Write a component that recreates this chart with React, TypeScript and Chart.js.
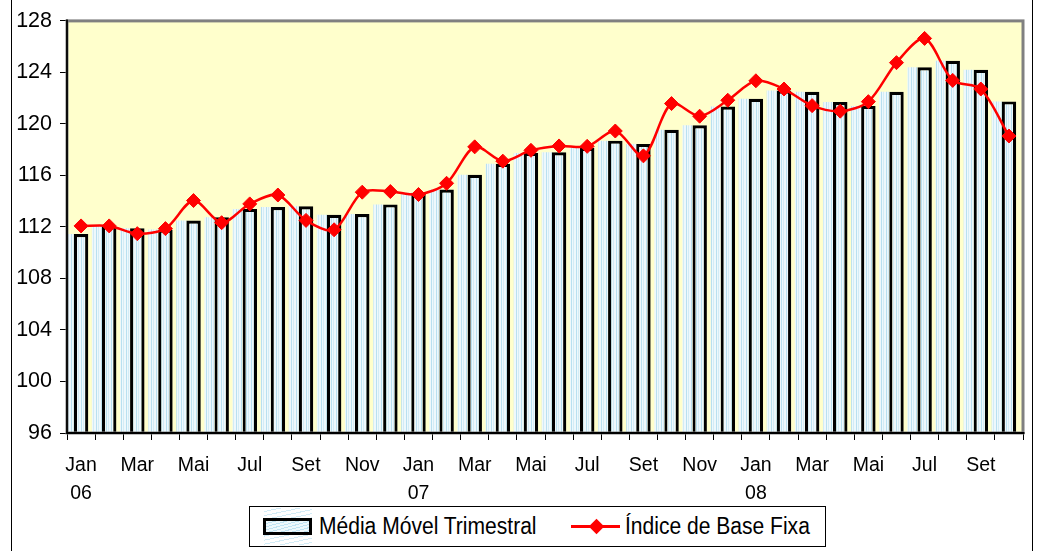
import React, { useEffect, useRef } from 'react';
import { Chart, registerables } from 'chart.js';

Chart.register(...registerables);

const categories: string[][] = [
  ['Jan', '06'], ['Fev'], ['Mar'], ['Abr'], ['Mai'], ['Jun'], ['Jul'], ['Ago'], ['Set'], ['Out'], ['Nov'], ['Dez'],
  ['Jan', '07'], ['Fev'], ['Mar'], ['Abr'], ['Mai'], ['Jun'], ['Jul'], ['Ago'], ['Set'], ['Out'], ['Nov'], ['Dez'],
  ['Jan', '08'], ['Fev'], ['Mar'], ['Abr'], ['Mai'], ['Jun'], ['Jul'], ['Ago'], ['Set'], ['Out'],
];

const mediaMovelTrimestral = [
  111.45, 112.1, 111.9, 111.8, 112.5, 112.75, 113.4, 113.55, 113.6, 112.95, 113.0, 113.75,
  114.65, 114.9, 116.05, 116.9, 117.75, 117.8, 118.15, 118.7, 118.45, 119.55, 119.9, 121.35,
  121.95, 122.6, 122.5, 121.7, 121.4, 122.5, 124.4, 124.9, 124.2, 121.75,
];

const indiceBaseFixa = [
  112.08, 112.08, 111.48, 111.87, 114.05, 112.33, 113.79, 114.48, 112.51, 111.78, 114.7, 114.75,
  114.52, 115.39, 118.22, 117.11, 117.95, 118.29, 118.26, 119.45, 117.52, 121.58, 120.6, 121.84,
  123.35, 122.71, 121.42, 120.99, 121.73, 124.76, 126.64, 123.38, 122.71, 119.06,
];

const seriesNames = ['Média Móvel Trimestral', 'Índice de Base Fixa'];
const yMin = 96;
const yMax = 128;
const yStep = 4;

const SLOT_PX = 12.25;
const MAIN_BAR_PX = 14.5;
const SHADOW_BAR_PX = 10;
const CAT_PCT = (3 * SLOT_PX) / ((1023 - 67) / 34);

const framePlugin = {
  id: 'frame',
  beforeDraw(chart: any) {
    const { ctx, chartArea: a } = chart;
    ctx.save();
    ctx.fillStyle = '#FFFFCC';
    ctx.fillRect(a.left, a.top, a.right - a.left, a.bottom - a.top);
    ctx.restore();
  },
  afterDatasetsDraw(chart: any) {
    const { ctx, chartArea: a } = chart;
    ctx.save();
    ctx.strokeStyle = '#808080';
    ctx.lineWidth = 3;
    ctx.strokeRect(a.left, a.top, a.right - a.left, a.bottom - a.top);
    ctx.strokeStyle = '#000';
    ctx.lineWidth = 1.8;
    ctx.beginPath();
    ctx.moveTo(a.left, a.top - 1.5);
    ctx.lineTo(a.left, a.bottom);
    ctx.lineTo(a.right + 1.5, a.bottom);
    ctx.stroke();
    ctx.restore();
  },
};

export default function App() {
  const ref = useRef<HTMLCanvasElement>(null);

  useEffect(() => {
    const canvas = ref.current!;
    const ctx = canvas.getContext('2d')!;
    const pc = document.createElement('canvas');
    pc.width = 5;
    pc.height = 6;
    const p = pc.getContext('2d')!;
    p.fillStyle = '#EEF8FC';
    p.fillRect(0, 0, 5, 6);
    p.fillStyle = '#B9E0F0';
    p.fillRect(1, 0, 1, 6);
    p.fillStyle = '#D2ECF6';
    p.fillRect(3, 0, 1, 6);
    const pattern = ctx.createPattern(pc, 'repeat')!;

    const chart = new Chart(canvas, {
      type: 'bar',
      data: {
        labels: categories,
        datasets: [
          {
            type: 'line',
            label: seriesNames[1],
            data: indiceBaseFixa,
            borderColor: '#FF0000',
            backgroundColor: '#FF0000',
            borderWidth: 2.5,
            pointStyle: 'rectRot',
            pointRadius: 7,
            pointBorderWidth: 1,
            pointBackgroundColor: '#FF0000',
            pointBorderColor: '#FF0000',
            tension: 0.3,
            order: -1,
          } as any,
          {
            type: 'bar',
            label: 'sombra',
            data: mediaMovelTrimestral,
            backgroundColor: pattern,
            borderWidth: 0,
            categoryPercentage: CAT_PCT,
            barPercentage: SHADOW_BAR_PX / SLOT_PX,
            base: yMin,
            clip: 0,
          } as any,
          {
            type: 'bar',
            label: seriesNames[0],
            data: mediaMovelTrimestral,
            backgroundColor: pattern,
            borderColor: '#000000',
            borderWidth: 3.2,
            categoryPercentage: CAT_PCT,
            barPercentage: MAIN_BAR_PX / SLOT_PX,
            base: yMin,
          } as any,
          {
            type: 'bar',
            label: 'espaço',
            data: categories.map(() => null),
            categoryPercentage: CAT_PCT,
            barPercentage: 1,
          } as any,
        ],
      },
      options: {
        responsive: false,
        animation: false,
        devicePixelRatio: 1,
        events: [],
        layout: { padding: { top: 17.3, right: 17, bottom: 48, left: 0 } },
        plugins: {
          legend: { display: false },
          tooltip: { enabled: false },
        },
        scales: {
          x: {
            offset: true,
            border: { display: false },
            grid: { offset: true, drawOnChartArea: false, drawTicks: true, tickLength: 7, color: '#000', lineWidth: 1 },
            ticks: {
              autoSkip: false,
              maxRotation: 0,
              minRotation: 0,
              padding: 11,
              color: '#000',
              font: { family: "'Liberation Sans', Arial, sans-serif", size: 19.5, lineHeight: 1.45 },
              callback: (_v: any, i: number) => (i % 2 === 0 ? categories[i] : ''),
            },
            afterFit: (s: any) => {
              s.height = 70;
            },
          },
          y: {
            min: yMin,
            max: yMax,
            border: { display: false },
            grid: { drawOnChartArea: false, drawTicks: true, tickLength: 7, color: '#000', lineWidth: 1 },
            ticks: {
              stepSize: yStep,
              padding: 8,
              color: '#000',
              font: { family: "'Liberation Sans', Arial, sans-serif", size: 21.5 },
            },
            afterFit: (s: any) => {
              s.width = 67;
            },
          },
        },
      },
      plugins: [framePlugin],
    });
    return () => chart.destroy();
  }, []);

  const legendFont = "'Liberation Sans', Arial, sans-serif";
  const textStyle: React.CSSProperties = {
    position: 'absolute', top: 6, lineHeight: '26px', whiteSpace: 'nowrap',
    fontSize: 23, transform: 'scaleX(0.915)', transformOrigin: 'left center',
  };

  return (
    <div style={{ position: 'fixed', left: 0, top: 0, width: 1040, height: 551, background: '#fff', overflow: 'hidden' }}>
      <canvas ref={ref} width={1040} height={551} style={{ position: 'absolute', left: 0, top: 0, width: 1040, height: 551 }} />
      <div
        style={{
          position: 'absolute', left: 11, top: 0, width: 1022, height: 551, boxSizing: 'border-box',
          borderLeft: '1px solid #000', borderRight: '1px solid #000', pointerEvents: 'none',
        }}
      />
      <div
        style={{
          position: 'absolute', left: 249, top: 506, width: 577, height: 41, boxSizing: 'border-box',
          border: '1px solid #000', background: '#fff', fontFamily: legendFont, color: '#000',
        }}
      >
        <div
          style={{
            position: 'absolute', left: 14, top: 1, width: 48, height: 37, opacity: 0.7,
            background: 'repeating-linear-gradient(168deg, #FFFFFF 0px, #FFFFFF 3px, #BFE3F2 3px, #BFE3F2 4px)',
          }}
        />
        <div
          style={{
            position: 'absolute', left: 13, top: 11, width: 49, height: 17, boxSizing: 'border-box',
            border: '3px solid #000',
            background: 'repeating-linear-gradient(165deg, #EEF8FC 0px, #EEF8FC 2px, #BFE3F2 2px, #BFE3F2 3px)',
          }}
        />
        <span style={{ ...textStyle, left: 69 }}>{seriesNames[0]}</span>
        <div style={{ position: 'absolute', left: 321, top: 18, width: 49, height: 3, background: '#FF0000' }} />
        <div
          style={{
            position: 'absolute', left: 341, top: 14, width: 11, height: 11, background: '#FF0000',
            transform: 'rotate(45deg)',
          }}
        />
        <span style={{ ...textStyle, left: 375 }}>{seriesNames[1]}</span>
      </div>
    </div>
  );
}
